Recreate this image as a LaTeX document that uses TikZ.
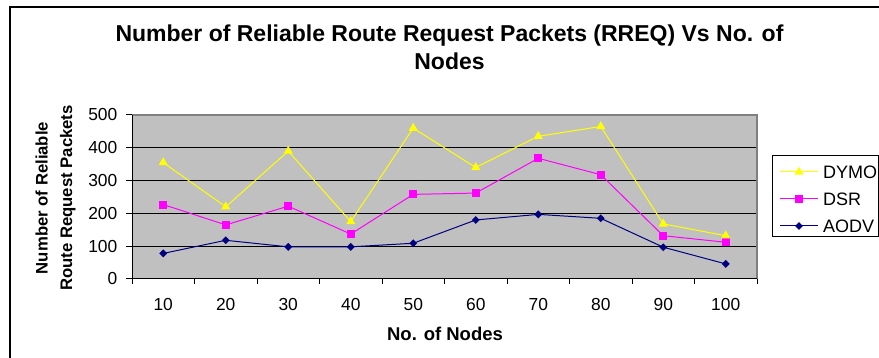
\documentclass[tikz,border=0pt]{standalone}
\usepackage{fontspec}
\setmainfont{Liberation Sans}
\usetikzlibrary{shapes.geometric}
\definecolor{plotgray}{HTML}{C0C0C0}
\definecolor{bordergray}{HTML}{808080}
\definecolor{dymo}{HTML}{FFFF00}
\definecolor{dsr}{HTML}{FF00FF}
\definecolor{aodv}{HTML}{000080}
\begin{document}
\begin{tikzpicture}[x=1pt,y=-1pt,
  tri/.style={regular polygon, regular polygon sides=3, fill=dymo, draw=none, inner sep=0pt, minimum size=10.6pt},
  sq/.style={rectangle, fill=dsr, draw=none, inner sep=0pt, minimum size=8pt},
  dia/.style={diamond, fill=aodv, draw=none, inner sep=0pt, minimum width=8pt, minimum height=8pt},
  ticklbl/.style={font=\fontsize{17.4}{20}\selectfont, inner sep=0pt},
  leglbl/.style={font=\fontsize{18}{20}\selectfont, inner sep=0pt, anchor=west},
  dymoline/.style={draw=dymo, line width=1pt},
  dsrline/.style={draw=dsr, line width=1pt},
  aodvline/.style={draw=aodv, line width=1pt},
  gridl/.style={draw=black, line width=1pt},
]
\useasboundingbox (0,0) rectangle (879,358);
\fill[white] (0,0) rectangle (879,358);
% outer chart frame (cut off at right and bottom)
\draw[line width=2pt] (10,359) -- (10,7.5) -- (880,7.5);

% title
\node[font=\bfseries\fontsize{23}{28}\selectfont, align=center, inner sep=0pt] (title) at (449.5,47)
  {Number of Reliable Route Request Packets (RREQ) Vs No. of\\Nodes};

% plot area
\fill[plotgray] (132,115) rectangle (757,279);
\foreach \v in {100,200,300,400}
  \draw[gridl] (132,{279-\v*0.328}) -- (757,{279-\v*0.328});
\draw[bordergray, line width=2pt] (132,115) -- (756.5,115) -- (756.5,279);
\draw[black, line width=1pt] (132,115) -- (132,279) -- (757,279);
% ticks
\foreach \k in {0,...,10}
  \draw[black, line width=1pt] ({132+62.5*\k},279) -- ({132+62.5*\k},284.5);
\foreach \v in {0,100,...,500}
  \draw[black, line width=1pt] (126,{279-\v*0.328}) -- (132,{279-\v*0.328});
% tick labels
\foreach \v in {0,100,...,500}
  \node[ticklbl, anchor=east] (yl\v) at (117.5,{279-\v*0.328}) {\v};
\foreach \n [count=\i] in {10,20,...,100}
  \node[ticklbl] (xl\i) at ({132+62.5*(\i-0.5)},305) {\n};

% axis titles
\node[font=\bfseries\fontsize{16.7}{24.5}\selectfont, align=center, rotate=90, inner sep=0pt] (ytitle) at (55.5,198)
  {Number of Reliable\\Route Request Packets};
\node[font=\bfseries\fontsize{18.5}{20}\selectfont, inner sep=0pt] (xtitle) at (445,334) {No. of Nodes};

% data
\begin{scope}[shift={(132,279)}, x=62.5pt, y=0.328pt]
  \foreach \v [count=\i] in {355,220,390,175,460,340,435,465,168,132}
    \coordinate (a\i) at (\i-0.5,\v);
  \foreach \v [count=\i] in {227,165,222,137,258,262,368,318,132,112}
    \coordinate (b\i) at (\i-0.5,\v);
  \foreach \v [count=\i] in {78,118,98,98,109,180,197,185,97,46}
    \coordinate (c\i) at (\i-0.5,\v);
\end{scope}
\draw[aodvline] (c1)--(c2)--(c3)--(c4)--(c5)--(c6)--(c7)--(c8)--(c9)--(c10);
\draw[dsrline] (b1)--(b2)--(b3)--(b4)--(b5)--(b6)--(b7)--(b8)--(b9)--(b10);
\draw[dymoline] (a1)--(a2)--(a3)--(a4)--(a5)--(a6)--(a7)--(a8)--(a9)--(a10);
\foreach \i in {1,...,10} {
  \node[dia] (mc\i) at (c\i) {};
  \node[sq] (mb\i) at (b\i) {};
  \node[tri] (ma\i) at (a\i) {};
}

% legend
\draw[black, line width=1pt] (772,156) rectangle (878,237);
\coordinate (l1a) at (780,172); \coordinate (l1b) at (818,172);
\coordinate (l2a) at (780,199); \coordinate (l2b) at (818,199);
\coordinate (l3a) at (780,226); \coordinate (l3b) at (818,226);
\draw[dymoline] (l1a) -- (l1b);
\draw[dsrline] (l2a) -- (l2b);
\draw[aodvline] (l3a) -- (l3b);
\node[tri] (lm1) at (799,172) {};
\node[sq] (lm2) at (799,199) {};
\node[dia] (lm3) at (799,226) {};
\node[leglbl] (lt1) at (823,172) {DYMO};
\node[leglbl] (lt2) at (823,199) {DSR};
\node[leglbl] (lt3) at (823,226) {AODV};
\end{tikzpicture}
\end{document}
